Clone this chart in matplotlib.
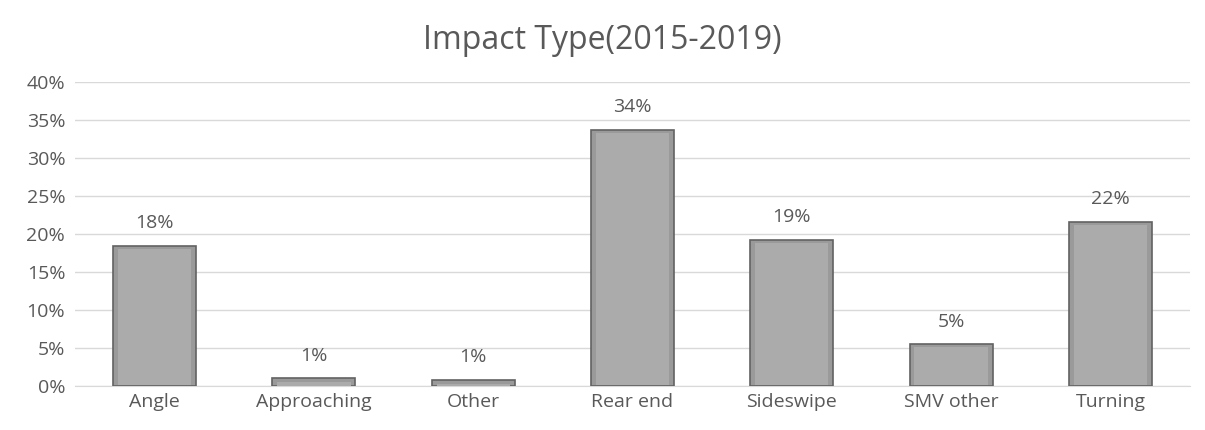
import matplotlib
matplotlib.use("Agg")
import matplotlib.pyplot as plt
from matplotlib.ticker import PercentFormatter

categories = ["Angle", "Approaching", "Other", "Rear end", "Sideswipe", "SMV other", "Turning"]
shares = [0.184, 0.010, 0.008, 0.337, 0.192, 0.055, 0.216]
labels = ["18%", "1%", "1%", "34%", "19%", "5%", "22%"]

plt.rcParams["font.family"] = ["Open Sans", "DejaVu Sans"]
text_color = "#595959"

fig = plt.figure(figsize=(12.05, 4.3), dpi=100)
ax = fig.add_axes([0.0622, 0.1023, 0.9254, 0.707])

x = range(len(categories))
# base bar with dark rim, then a lighter inner face to mimic the bevel
ax.bar(x, shares, width=0.52, color="#9a9a9a", edgecolor="#626262", linewidth=1.2, zorder=3)
inner = [max(v - 0.005, 0) for v in shares]
ax.bar(x, inner, width=0.46, bottom=[0.0012 if v > 0.01 else 0 for v in shares],
       color="#ababab", linewidth=0, zorder=4)

for i, (v, lab) in enumerate(zip(shares, labels)):
    ax.text(i, v + 0.018, lab, ha="center", va="bottom", fontsize=14, color=text_color)

ax.set_ylim(0, 0.4)
ax.set_xlim(-0.5, len(categories) - 0.5)
ax.set_yticks([i * 0.05 for i in range(9)])
ax.yaxis.set_major_formatter(PercentFormatter(1.0, decimals=0))
ax.set_xticks(list(x))
ax.set_xticklabels(categories)
ax.tick_params(axis="y", length=0, labelsize=14, colors=text_color, pad=7)
ax.tick_params(axis="x", length=0, labelsize=14, colors=text_color, pad=5)
ax.grid(axis="y", color="#d9d9d9", linewidth=1, zorder=0)
for s in ["top", "right", "left"]:
    ax.spines[s].set_visible(False)
ax.spines["bottom"].set_color("#d9d9d9")

fig.suptitle("Impact Type(2015-2019)", fontsize=23, color=text_color, y=0.945)

fig.savefig("out.png", dpi=100)
